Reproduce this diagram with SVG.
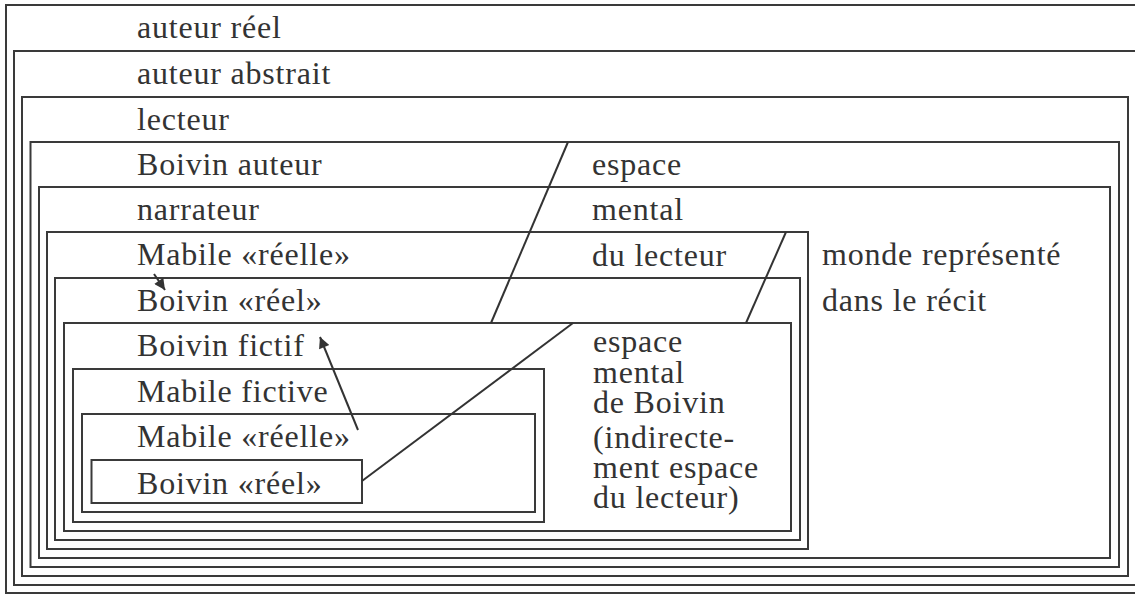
<svg xmlns="http://www.w3.org/2000/svg" width="1135" height="594" viewBox="0 0 1135 594">
<style>
.box{fill:none;stroke:#3a3a3a;stroke-width:2}
.lbl{font-family:"Liberation Serif","Times New Roman",serif;font-size:32px;letter-spacing:0.8px;fill:#333}
.con{fill:none;stroke:#333;stroke-width:2}
.arr{fill:none;stroke:#333;stroke-width:2;marker-end:url(#ah)}
</style>
<defs>
<marker id="ah" viewBox="0 0 10 10" refX="10" refY="5" markerUnits="userSpaceOnUse" markerWidth="14" markerHeight="11" orient="auto">
<path d="M0,0 L10,5 L0,10 z" fill="#333"/>
</marker>
</defs>
<rect width="1135" height="594" fill="#fff"/>
<g id="n1"><rect class="box" x="6" y="5" width="1150" height="588"/><text class="lbl" x="137" y="38">auteur réel</text></g>
<g id="n2"><rect class="box" x="14" y="51" width="1140" height="534"/><text class="lbl" x="137" y="84">auteur abstrait</text></g>
<g id="n3"><rect class="box" x="22" y="97" width="1106" height="479"/><text class="lbl" x="137" y="130">lecteur</text></g>
<g id="n4"><rect class="box" x="30.5" y="142" width="1088.5" height="425"/><text class="lbl" x="137" y="175">Boivin auteur</text></g>
<g id="n5"><rect class="box" x="39" y="187" width="1071" height="371"/><text class="lbl" x="137" y="220">narrateur</text></g>
<g id="n6"><rect class="box" x="47" y="232" width="761" height="317"/><text class="lbl" x="137" y="265">Mabile «réelle»</text></g>
<g id="n7"><rect class="box" x="55" y="278" width="745" height="262"/><text class="lbl" x="137" y="311">Boivin «réel»</text></g>
<g id="n8"><rect class="box" x="64" y="323" width="727" height="208"/><text class="lbl" x="137" y="356">Boivin fictif</text></g>
<g id="n9"><rect class="box" x="73" y="369" width="471" height="153"/><text class="lbl" x="137" y="402">Mabile fictive</text></g>
<g id="n10"><rect class="box" x="82" y="414" width="453" height="98"/><text class="lbl" x="137" y="447">Mabile «réelle»</text></g>
<g id="n11"><rect class="box" x="91.5" y="460" width="270.5" height="43"/><text class="lbl" x="137" y="494">Boivin «réel»</text></g>
<g id="espace-lecteur">
<text class="lbl" x="592" y="175">espace</text>
<text class="lbl" x="592" y="220">mental</text>
<text class="lbl" x="592" y="266">du lecteur</text>
</g>
<g id="monde">
<text class="lbl" x="822" y="265">monde représenté</text>
<text class="lbl" x="822" y="311">dans le récit</text>
</g>
<g id="espace-boivin">
<text class="lbl" x="593" y="352">espace</text>
<text class="lbl" x="593" y="383">mental</text>
<text class="lbl" x="593" y="413">de Boivin</text>
<text class="lbl" x="593" y="448">(indirecte-</text>
<text class="lbl" x="593" y="478">ment espace</text>
<text class="lbl" x="593" y="508">du lecteur)</text>
</g>
<g id="connectors">
<line class="con" x1="568" y1="142" x2="491" y2="323"/>
<line class="con" x1="786" y1="232" x2="746" y2="323"/>
<line class="con" x1="573" y1="323" x2="362" y2="481"/>
<line class="arr" x1="358" y1="430" x2="320" y2="337"/>
<line class="arr" x1="154" y1="274" x2="165" y2="290"/>
</g>
</svg>
